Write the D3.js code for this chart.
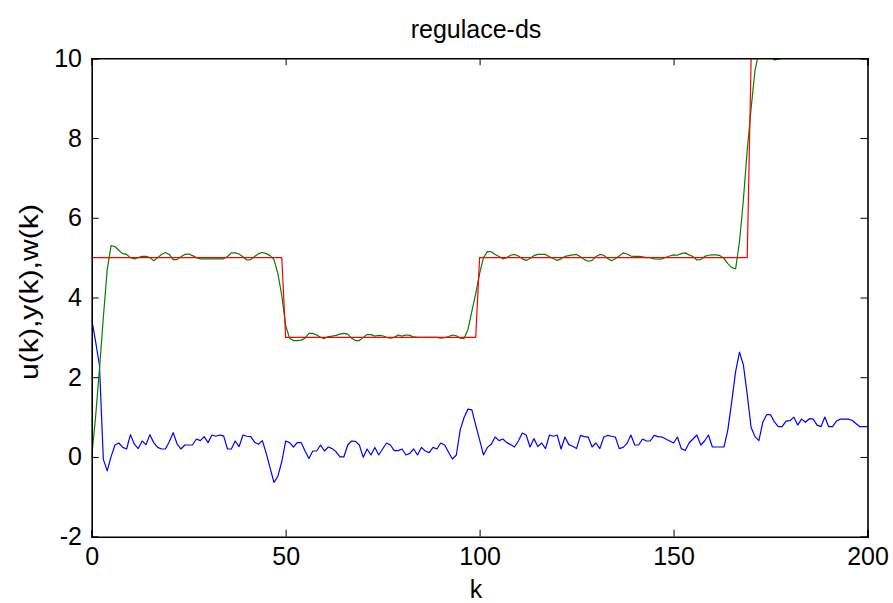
<!DOCTYPE html>
<html><head><meta charset="utf-8">
<script src="https://cdn.jsdelivr.net/npm/d3@7"></script>
<style>html,body{margin:0;padding:0;background:#fff;} svg{display:block;} text{font-family:"Liberation Sans",Arial,sans-serif;fill:#000;}</style>
</head><body>
<script>
// ---- data ----
const title = "regulace-ds";
const xLabel = "k";
const yLabel = "u(k),y(k),w(k)";
const xTicks = [0, 50, 100, 150, 200];
const yTicks = [-2, 0, 2, 4, 6, 8, 10];
const xDomain = [0, 200];
const yDomain = [-2, 10];

// setpoint w(k)
const w = [
5,5,5,5,5,5,5,5,5,5, 5,5,5,5,5,5,5,5,5,5, 5,5,5,5,5,5,5,5,5,5, 5,5,5,5,5,5,5,5,5,5, 5,5,5,5,5,5,5,5,5,5,
3,3,3,3,3,3,3,3,3,3, 3,3,3,3,3,3,3,3,3,3, 3,3,3,3,3,3,3,3,3,3, 3,3,3,3,3,3,3,3,3,3, 3,3,3,3,3,3,3,3,3,3,
5,5,5,5,5,5,5,5,5,5, 5,5,5,5,5,5,5,5,5,5, 5,5,5,5,5,5,5,5,5,5, 5,5,5,5,5,5,5,5,5,5, 5,5,5,5,5,5,5,5,5,5,
5,5,5,5,5,5,5,5,5,5, 5,5,5,5,5,5,5,5,5,5, 10,10,10,10,10,10,10,10,10,10, 10,10,10,10,10,10,10,10,10,10, 10,10,10,10,10,10,10,10,10,10,
10];

// output y(k)
const y = [
0,1.0,2.2,3.5,4.7,5.3,5.28,5.18,5.1,5.08, 5.0,4.97,5.0,5.03,5.03,5.0,4.92,5.0,5.08,5.13,
5.08,4.95,4.95,5.02,5.08,5.09,5.05,5.0,4.97,4.97, 4.97,4.97,4.97,4.97,4.97,5.03,5.12,5.12,5.09,5.02,
4.94,4.95,5.03,5.1,5.13,5.1,5.05,4.95,4.6,4.05, 3.3,2.98,2.92,2.92,2.93,2.98,3.1,3.1,3.06,3.0,
2.97,3.02,3.03,3.05,3.08,3.1,3.08,2.98,2.92,2.92, 3.0,3.07,3.07,3.03,3.05,3.04,3.0,2.98,3.0,3.06,
3.03,3.06,3.05,3.01,3.0,3.0,3.0,3.0,3.0,3.0, 2.98,2.99,3.02,3.06,3.04,2.98,2.97,3.2,3.65,4.1,
4.6,5.0,5.15,5.15,5.08,5.03,4.97,5.0,5.06,5.08, 5.04,4.97,4.93,4.98,5.05,5.08,5.08,5.08,5.02,4.98,
4.93,4.97,5.03,5.05,5.07,5.08,5.02,4.95,4.91,4.93, 5.03,5.08,5.06,4.98,4.92,4.97,5.04,5.12,5.09,5.04,
5.03,5.03,5.02,5.0,5.0,4.97,4.96,4.97,5.01,5.04, 5.07,5.06,5.1,5.12,5.07,5.03,4.94,4.95,5.03,5.06,
5.07,5.07,5.05,4.98,4.85,4.75,4.72,5.4,6.45,7.7, 8.75,9.7,10.15,10.25,10.2,10.03,9.96,9.98,10.0,10.0,
10.0,10.01,10.0,10.0,10.0,10.0,10.0,10.0,10.0,10.0, 10.0,10.0,10.0,10.0,10.0,10.0,10.0,10.0,10.0,10.0,
10.0];

// control u(k)
const u = [
3.45,2.9,2.3,-0.06,-0.35,0.01,0.30,0.35,0.24,0.20, 0.56,0.32,0.21,0.40,0.31,0.56,0.36,0.24,0.20,0.20,
0.38,0.61,0.33,0.20,0.30,0.30,0.30,0.45,0.41,0.51, 0.36,0.55,0.52,0.55,0.53,0.20,0.20,0.40,0.26,0.55,
0.52,0.51,0.37,0.32,0.41,0.09,-0.28,-0.64,-0.48,-0.12, 0.40,0.36,0.25,0.36,0.36,0.15,-0.04,0.15,0.15,0.30,
0.15,0.25,0.21,0.13,0.0,0.0,0.30,0.40,0.39,0.30, -0.01,0.20,0.05,0.24,0.05,0.20,0.35,0.30,0.16,0.16,
0.20,0.05,0.09,0.20,0.05,0.24,0.15,0.11,0.24,0.20, 0.35,0.30,0.12,-0.05,0.05,0.68,0.99,1.20,1.18,0.80,
0.43,0.05,0.24,0.32,0.50,0.41,0.45,0.36,0.31,0.25, 0.40,0.60,0.55,0.25,0.46,0.26,0.35,0.21,0.55,0.52,
0.55,0.20,0.50,0.31,0.27,0.21,0.54,0.51,0.50,0.25, 0.35,0.21,0.50,0.54,0.52,0.50,0.21,0.24,0.34,0.55,
0.30,0.30,0.45,0.40,0.40,0.54,0.51,0.50,0.45,0.40, 0.35,0.50,0.21,0.16,0.35,0.45,0.55,0.30,0.40,0.55,
0.25,0.25,0.25,0.25,0.68,1.39,2.14,2.63,2.31,1.56, 0.74,0.51,0.41,0.87,1.06,1.06,0.88,0.76,0.76,0.90,
0.91,1.00,0.80,0.95,0.87,0.96,0.95,0.80,0.76,1.00, 0.76,0.76,0.90,0.95,0.95,0.95,0.92,0.84,0.76,0.76,
0.76];

// ---- layout ----
const W = 893, H = 603;
const m = {left: 91.7, right: 893 - 867.5, top: 58.3, bottom: 603 - 536.7};
const svg = d3.select("body").append("svg").attr("width", W).attr("height", H);
svg.append("rect").attr("width", W).attr("height", H).attr("fill", "#fff");

const x = d3.scaleLinear().domain(xDomain).range([m.left, W - m.right]);
const yS = d3.scaleLinear().domain(yDomain).range([H - m.bottom, m.top]);

svg.append("defs").append("clipPath").attr("id", "clip")
  .append("rect").attr("x", x(0)).attr("y", yS(10)).attr("width", x(200) - x(0)).attr("height", yS(-2) - yS(10));

const plot = svg.append("g").attr("clip-path", "url(#clip)");
const line = d3.line().x((d, i) => x(i)).y(d => yS(d));
const series = [{v: u, c: "#0000ff"}, {v: y, c: "#008000"}, {v: w, c: "#ff0000"}];
series.forEach(s => {
  plot.append("path").datum(s.v).attr("d", line).attr("fill", "none")
    .attr("stroke", s.c).attr("stroke-width", 1.2).attr("stroke-linejoin", "round");
});

// axes (inward ticks on all four sides)
const tl = 7;
const fs = 25;
const fmt = d => String(d);
const axB = d3.axisBottom(x).tickValues(xTicks).tickSize(-tl).tickPadding(tl + 4).tickFormat(fmt);
const axT = d3.axisTop(x).tickValues(xTicks).tickSize(-tl).tickFormat("");
const axL = d3.axisLeft(yS).tickValues(yTicks).tickSize(-tl).tickPadding(tl + 2.7).tickFormat(fmt);
const axR = d3.axisRight(yS).tickValues(yTicks).tickSize(-tl).tickFormat("");

function style(g) {
  g.select(".domain").attr("stroke", "#000").attr("stroke-width", 1.6);
  g.selectAll(".tick line").attr("stroke", "#000").attr("stroke-width", 1);
  g.selectAll(".tick text").attr("font-size", fs).attr("font-family", "Liberation Sans, Arial, sans-serif").attr("fill", "#000");
}
svg.append("g").attr("transform", `translate(0,${H - m.bottom})`).call(axB).call(style);
svg.append("g").attr("transform", `translate(0,${m.top})`).call(axT).call(style);
svg.append("g").attr("transform", `translate(${m.left},0)`).call(axL).call(style);
svg.append("g").attr("transform", `translate(${W - m.right},0)`).call(axR).call(style);

// titles
svg.append("text").attr("x", 476).attr("y", 38).attr("text-anchor", "middle")
  .attr("font-size", 25).text(title);
svg.append("text").attr("x", 476).attr("y", 598).attr("text-anchor", "middle")
  .attr("font-size", 25).text(xLabel);
svg.append("text").attr("transform", `translate(38,292) rotate(-90)`)
  .attr("text-anchor", "middle").attr("font-size", 25).attr("textLength", 176)
  .attr("lengthAdjust", "spacingAndGlyphs").text(yLabel);
</script>
</body></html>
